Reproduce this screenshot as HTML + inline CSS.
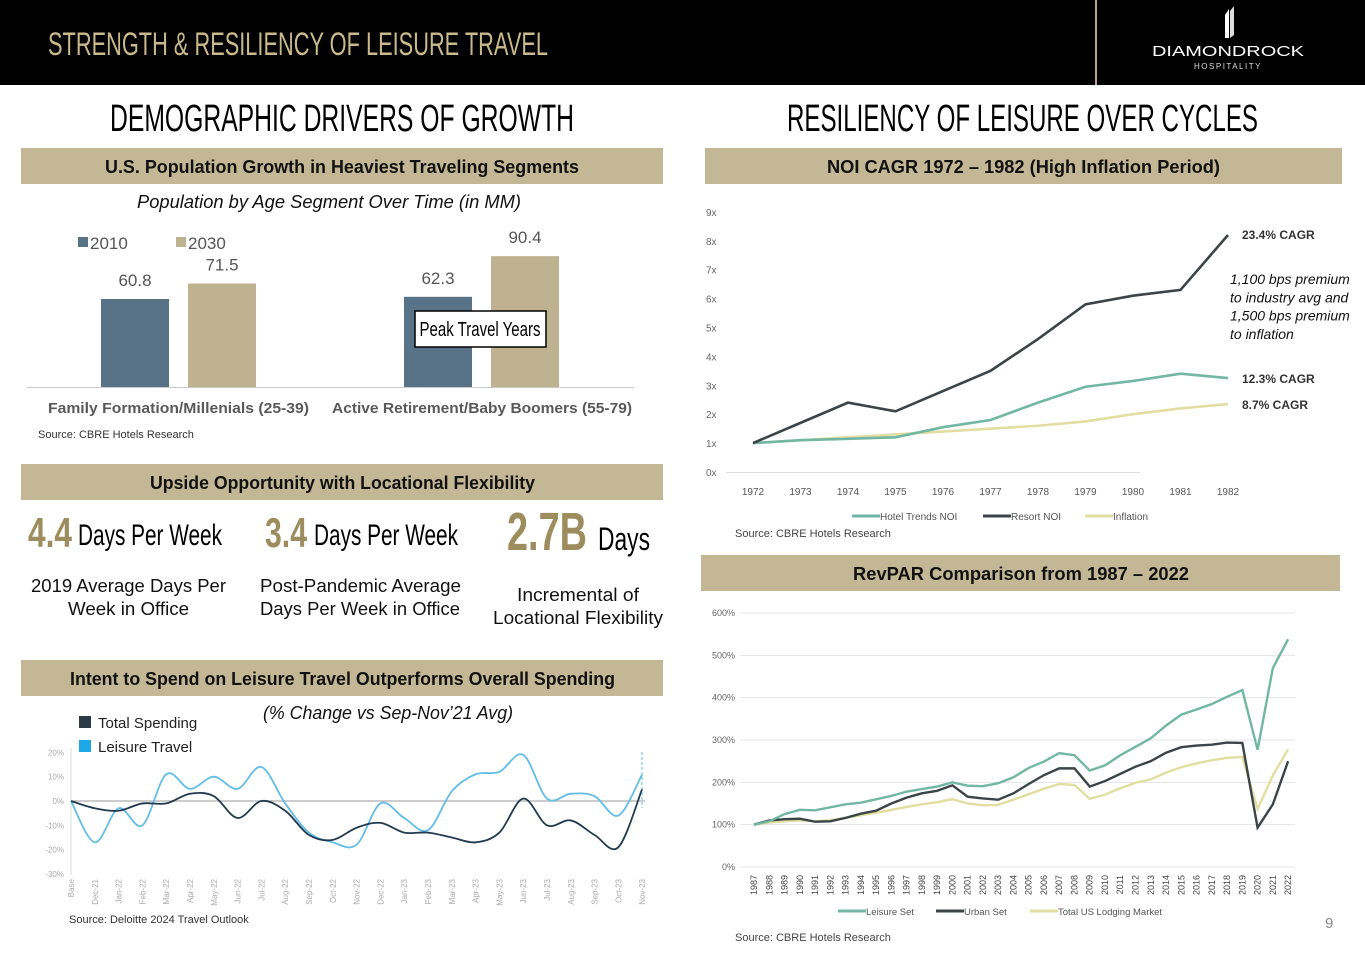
<!DOCTYPE html>
<html><head><meta charset="utf-8"><style>
html,body{margin:0;padding:0;background:#fff;width:1365px;height:956px;overflow:hidden}
svg{display:block;font-family:"Liberation Sans",sans-serif}
.n{font-family:"Liberation Sans Narrow","Liberation Sans",sans-serif}
</style></head><body>
<svg id="s" width="1365" height="956" viewBox="0 0 1365 956" xmlns="http://www.w3.org/2000/svg">
<rect x="0" y="0" width="1365" height="85" fill="#000"/>
<text class="n" x="48" y="55" font-size="32" fill="#c9b98b" textLength="500" lengthAdjust="spacingAndGlyphs">STRENGTH &amp; RESILIENCY OF LEISURE TRAVEL</text>
<line x1="1096" y1="0" x2="1096" y2="85" stroke="#b8a880" stroke-width="2"/>
<g>
<path d="M1225 15 L1229 9 L1229 38 L1225 38 Z" fill="#fff"/><path d="M1230 11 L1234 6 L1234 35 L1230 38 Z" fill="#ddd"/>
<text x="1228" y="56" font-size="15" fill="#fff" text-anchor="middle" textLength="152" lengthAdjust="spacingAndGlyphs">DIAMONDROCK</text>
<text x="1228" y="69" font-size="8" fill="#ddd" text-anchor="middle" letter-spacing="1.5">HOSPITALITY</text>
</g>
<text class="n" x="110" y="131" font-size="38" fill="#000" textLength="464" lengthAdjust="spacingAndGlyphs">DEMOGRAPHIC DRIVERS OF GROWTH</text>
<text class="n" x="787" y="131" font-size="38" fill="#000" textLength="471" lengthAdjust="spacingAndGlyphs">RESILIENCY OF LEISURE OVER CYCLES</text>

<rect x="21" y="148" width="642" height="36" fill="#c3b795"/>
<text x="105" y="173" font-size="18" font-weight="bold" fill="#111" textLength="474" lengthAdjust="spacingAndGlyphs">U.S. Population Growth in Heaviest Traveling Segments</text>
<text x="137" y="208" font-size="18" font-style="italic" fill="#111" textLength="384" lengthAdjust="spacingAndGlyphs">Population by Age Segment Over Time (in MM)</text>
<g id="bars"></g>

<rect x="21" y="464" width="642" height="36" fill="#c3b795"/>
<text x="150" y="489" font-size="18" font-weight="bold" fill="#111" textLength="385" lengthAdjust="spacingAndGlyphs">Upside Opportunity with Locational Flexibility</text>
<g>
<text class="n" x="28" y="547" font-size="42" font-weight="bold" fill="#9c8c5e" textLength="44" lengthAdjust="spacingAndGlyphs">4.4</text>
<text class="n" x="78" y="545" font-size="30" fill="#000" textLength="144" lengthAdjust="spacingAndGlyphs">Days Per Week</text>
<text x="31" y="592" font-size="18" fill="#111" textLength="195" lengthAdjust="spacingAndGlyphs">2019 Average Days Per</text>
<text x="68" y="615" font-size="18" fill="#111" textLength="121" lengthAdjust="spacingAndGlyphs">Week in Office</text></g>
<g>
<text class="n" x="265" y="547" font-size="42" font-weight="bold" fill="#9c8c5e" textLength="42" lengthAdjust="spacingAndGlyphs">3.4</text>
<text class="n" x="314" y="545" font-size="30" fill="#000" textLength="144" lengthAdjust="spacingAndGlyphs">Days Per Week</text>
<text x="260" y="592" font-size="18" fill="#111" textLength="201" lengthAdjust="spacingAndGlyphs">Post-Pandemic Average</text>
<text x="260" y="615" font-size="18" fill="#111" textLength="200" lengthAdjust="spacingAndGlyphs">Days Per Week in Office</text></g>
<g>
<text class="n" x="507" y="550" font-size="54" font-weight="bold" fill="#9c8c5e" textLength="80" lengthAdjust="spacingAndGlyphs">2.7B</text>
<text class="n" x="598" y="550" font-size="32" fill="#000" textLength="52" lengthAdjust="spacingAndGlyphs">Days</text>
<text x="517" y="601" font-size="18" fill="#111" textLength="122" lengthAdjust="spacingAndGlyphs">Incremental of</text>
<text x="493" y="624" font-size="18" fill="#111" textLength="170" lengthAdjust="spacingAndGlyphs">Locational Flexibility</text></g>

<rect x="21" y="660" width="642" height="36" fill="#c3b795"/>
<text x="70" y="685" font-size="18" font-weight="bold" fill="#111" textLength="545" lengthAdjust="spacingAndGlyphs">Intent to Spend on Leisure Travel Outperforms Overall Spending</text>
<text x="263" y="719" font-size="18" font-style="italic" fill="#111" textLength="250" lengthAdjust="spacingAndGlyphs">(% Change vs Sep-Nov’21 Avg)</text>
<g id="spend"></g>
<text x="69" y="923" font-size="11" fill="#333">Source:  Deloitte 2024 Travel Outlook</text>

<rect x="705" y="148" width="637" height="36" fill="#c3b795"/>
<text x="827" y="173" font-size="18" font-weight="bold" fill="#111" textLength="393" lengthAdjust="spacingAndGlyphs">NOI CAGR 1972 – 1982 (High Inflation Period)</text>
<g id="noi"></g>

<rect x="701" y="555" width="639" height="36" fill="#c3b795"/>
<text x="853" y="580" font-size="18" font-weight="bold" fill="#111" textLength="336" lengthAdjust="spacingAndGlyphs">RevPAR Comparison from 1987 – 2022</text>
<g id="rev"></g>
<text x="1325" y="928" font-size="15" fill="#888">9</text>
</svg>
<script>
// ---- population bar chart data
const popCategories=["Family Formation/Millenials (25-39)","Active Retirement/Baby Boomers (55-79)"];
const pop2010=[60.8,62.3];
const pop2030=[71.5,90.4];
// ---- spending chart data
const spendLabels=["Base","Dec-21","Jan-22","Feb-22","Mar-22","Apr-22","May-22","Jun-22","Jul-22","Aug-22","Sep-22","Oct-22","Nov-22","Dec-22","Jan-23","Feb-23","Mar-23","Apr-23","May-23","Jun-23","Jul-23","Aug-23","Sep-23","Oct-23","Nov-23"];
const totalSpending=[0,-3,-4,-1,-1,3,2,-7,0,-4,-14,-16,-11,-9,-13,-13,-15,-17,-13,1,-10,-8,-14,-19,5];
const leisureTravel=[0,-17,-3,-10,11,5,10,5,14,-1,-13,-17,-18,-1,-7,-12,4,11,12,19,1,3,2,-6,11];
const spendTicks=[20,10,0,-10,-20,-30];
// ---- NOI chart data
const noiYears=[1972,1973,1974,1975,1976,1977,1978,1979,1980,1981,1982];
const hotelNOI=[1,1.1,1.15,1.2,1.55,1.8,2.4,2.95,3.15,3.4,3.25];
const resortNOI=[1,1.7,2.4,2.1,2.8,3.5,4.6,5.8,6.1,6.3,8.2];
const inflation=[1,1.1,1.2,1.3,1.4,1.5,1.6,1.75,2.0,2.2,2.35];
const noiTicks=[0,1,2,3,4,5,6,7,8,9];
// ---- RevPAR chart data
const revYears=[];for(let y=1987;y<=2022;y++)revYears.push(y);
const leisureSet=[100,108,125,135,134,141,148,152,160,168,178,184,190,200,192,191,198,212,234,249,269,264,228,240,264,284,304,334,360,372,385,402,418,277,470,538];
const urbanSet=[100,110,113,114,107,108,116,126,133,150,164,174,180,193,166,162,159,174,196,217,233,233,190,203,220,237,250,270,283,287,289,294,293,93,148,250];
const totalMarket=[100,105,108,110,108,111,116,122,128,135,142,148,153,160,150,146,147,159,172,185,196,194,161,171,186,199,207,223,236,245,252,258,260,137,216,278];
const revTicks=[0,100,200,300,400,500,600];

const NS="http://www.w3.org/2000/svg";
function mk(p,tag,a,txt){const e=document.createElementNS(NS,tag);for(const k in a)e.setAttribute(k,a[k]);if(txt!==undefined)e.textContent=txt;p.appendChild(e);return e;}

// bars
(function(){
const g=document.getElementById('bars');
const y=v=>387-v*1.4475;
const gx=[101,404],bw=68,gap=19;
mk(g,'line',{x1:27,y1:387.5,x2:634,y2:387.5,stroke:'#ccc','stroke-width':1});
const l1=mk(g,'rect',{x:78,y:237,width:10,height:10,fill:'#587387'});

mk(g,'text',{x:90,y:249,'font-size':17,fill:'#555'},'2010');
const l2=mk(g,'rect',{x:176,y:237,width:10,height:10,fill:'#bfb290'});

mk(g,'text',{x:188,y:249,'font-size':17,fill:'#555'},'2030');
const catX=[48,332],catW=[261,300];
popCategories.forEach((c,i)=>{
 const a=mk(g,'rect',{x:gx[i],y:y(pop2010[i]),width:bw,height:387-y(pop2010[i]),fill:'#587387'});
 
 const b=mk(g,'rect',{x:gx[i]+bw+gap,y:y(pop2030[i]),width:bw,height:387-y(pop2030[i]),fill:'#bfb290'});
 
 mk(g,'text',{x:gx[i]+bw/2,y:y(pop2010[i])-13,'font-size':17,fill:'#555','text-anchor':'middle'},pop2010[i].toFixed(1));
 mk(g,'text',{x:gx[i]+bw*1.5+gap,y:y(pop2030[i])-13,'font-size':17,fill:'#555','text-anchor':'middle'},pop2030[i].toFixed(1));
 const t=mk(g,'text',{x:catX[i],y:413,'font-size':15,'font-weight':'bold',fill:'#595959',textLength:catW[i],lengthAdjust:'spacingAndGlyphs'},c);
 
});
const pk=mk(g,'rect',{x:415,y:311,width:131,height:36,fill:'#fff',stroke:'#000','stroke-width':1.5});

mk(g,'text',{x:480,y:336,'font-size':20,fill:'#000','text-anchor':'middle',class:'n',textLength:121,lengthAdjust:'spacingAndGlyphs'},'Peak Travel Years');
mk(g,'text',{x:38,y:438,'font-size':11,fill:'#333'},'Source:  CBRE Hotels Research');
})();

function smooth(pts){let d='M'+pts[0][0]+','+pts[0][1];
 for(let i=0;i<pts.length-1;i++){const p0=pts[i-1]||pts[i],p1=pts[i],p2=pts[i+1],p3=pts[i+2]||p2;
  const c1=[p1[0]+(p2[0]-p0[0])/6,p1[1]+(p2[1]-p0[1])/6],c2=[p2[0]-(p3[0]-p1[0])/6,p2[1]-(p3[1]-p1[1])/6];
  d+=' C'+c1.join(',')+' '+c2.join(',')+' '+p2.join(',');}return d;}

// spending
(function(){
const g=document.getElementById('spend');
const x=i=>71+i*23.8, y=v=>801-v*2.43;
mk(g,'line',{x1:71,y1:748,x2:71,y2:875,stroke:'#ddd'});
spendTicks.forEach(t=>mk(g,'text',{x:64,y:y(t)+3,'font-size':8,fill:'#aaa','text-anchor':'end'},t+'%'));
mk(g,'line',{x1:71,y1:801,x2:645,y2:801,stroke:'#bbb','stroke-width':1.5});
spendLabels.forEach((l,i)=>mk(g,'text',{x:x(i)+3,y:879,'font-size':8,fill:'#aaa','text-anchor':'end',transform:`rotate(-90 ${x(i)+3} 879)`},l));
const lp=mk(g,'path',{d:smooth(leisureTravel.map((v,i)=>[x(i),y(v)])),fill:'none',stroke:'#62bde8','stroke-width':1.8});

const tp=mk(g,'path',{d:smooth(totalSpending.map((v,i)=>[x(i),y(v)])),fill:'none',stroke:'#223a4f','stroke-width':1.8});

mk(g,'line',{x1:642,y1:752,x2:642,y2:808,stroke:'#62bde8','stroke-dasharray':'3,2'});
const a=mk(g,'rect',{x:79,y:716,width:12,height:12,fill:'#2b3a44'});
mk(g,'text',{x:98,y:728,'font-size':15,fill:'#222'},'Total Spending');
const b=mk(g,'rect',{x:79,y:740,width:12,height:12,fill:'#1fa8e8'});
mk(g,'text',{x:98,y:752,'font-size':15,fill:'#222'},'Leisure Travel');
})();

// NOI
(function(){
const g=document.getElementById('noi');
const x=i=>753+i*47.5, y=v=>472-v*28.9;
noiTicks.forEach(t=>mk(g,'text',{x:706,y:y(t)+4,'font-size':10,fill:'#666'},t+'x'));
mk(g,'line',{x1:726,y1:472.5,x2:1140,y2:472.5,stroke:'#ddd'});
noiYears.forEach((yr,i)=>mk(g,'text',{x:x(i),y:495,'font-size':10,fill:'#555','text-anchor':'middle'},yr));
[[inflation,'#e2dea2','inflation-line'],[hotelNOI,'#72b7a3','hotel-trends-noi-line'],[resortNOI,'#3b4447','resort-noi-line']].forEach(s=>{
 const p=mk(g,'polyline',{points:s[0].map((v,i)=>x(i)+','+y(v)).join(' '),fill:'none',stroke:s[1],'stroke-width':2.6});
 });
mk(g,'text',{x:1242,y:239,'font-size':12,'font-weight':'bold',fill:'#333'},'23.4% CAGR');
mk(g,'text',{x:1242,y:383,'font-size':12,'font-weight':'bold',fill:'#333'},'12.3% CAGR');
mk(g,'text',{x:1242,y:409,'font-size':12,'font-weight':'bold',fill:'#333'},'8.7% CAGR');
['1,100 bps premium','to industry avg and','1,500 bps premium','to inflation'].forEach((t,i)=>mk(g,'text',{x:1230,y:284+i*18.3,'font-size':14,'font-style':'italic',fill:'#111'},t));
const lg=[[852,'#72b7a3','Hotel Trends NOI'],[983,'#3b4447','Resort NOI'],[1085,'#e2dea2','Inflation']];
lg.forEach(l=>{const e=mk(g,'line',{x1:l[0],y1:516,x2:l[0]+28,y2:516,stroke:l[1],'stroke-width':3});
 mk(g,'text',{x:l[0]+28,y:520,'font-size':10,fill:'#555'},l[2]);});
mk(g,'text',{x:735,y:537,'font-size':11,fill:'#444'},'Source: CBRE Hotels Research');
})();

// RevPAR
(function(){
const g=document.getElementById('rev');
const x=i=>754+i*15.26, y=v=>867-v*0.4233;
revTicks.forEach(t=>{mk(g,'line',{x1:740,y1:y(t),x2:1295,y2:y(t),stroke:'#e4e4e4'});
 mk(g,'text',{x:735,y:y(t)+3,'font-size':9,fill:'#666','text-anchor':'end'},t+'%');});
revYears.forEach((yr,i)=>mk(g,'text',{x:x(i)+3,y:875,'font-size':9,fill:'#444','text-anchor':'end',transform:`rotate(-90 ${x(i)+3} 875)`},yr));
[[totalMarket,'#e2dea2','total-us-lodging-line'],[urbanSet,'#3b4447','urban-set-line'],[leisureSet,'#72b7a3','leisure-set-line']].forEach(s=>{
 const p=mk(g,'polyline',{points:s[0].map((v,i)=>x(i)+','+y(v)).join(' '),fill:'none',stroke:s[1],'stroke-width':2.4});
 });
const lg=[[838,'#72b7a3','Leisure Set'],[936,'#3b4447','Urban Set'],[1030,'#e2dea2','Total US Lodging Market']];
lg.forEach(l=>{const e=mk(g,'line',{x1:l[0],y1:911,x2:l[0]+28,y2:911,stroke:l[1],'stroke-width':3});
 mk(g,'text',{x:l[0]+28,y:915,'font-size':9.5,fill:'#555'},l[2]);});
mk(g,'text',{x:735,y:941,'font-size':11,fill:'#444'},'Source: CBRE Hotels Research');
})();
</script>
</body></html>
